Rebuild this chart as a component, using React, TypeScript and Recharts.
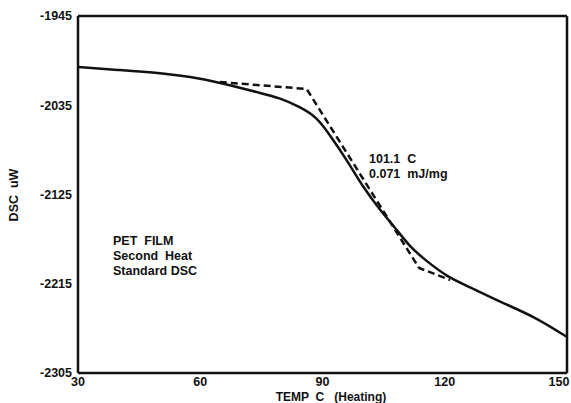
import React from 'react';
import { LineChart, Line, XAxis, YAxis, ReferenceLine, Customized } from 'recharts';

// DSC trace, second heat of PET film
const tempC = [30, 40.3, 50.1, 59.9, 68, 74.7, 79.6, 84.5, 88.6, 91.8, 96, 99.9, 104.1, 108.3, 111.5, 115.2, 120.6, 126.2, 133.6, 141.7, 150];
const dscUw = [-1996.4, -1999.5, -2002.5, -2007.5, -2015.6, -2022.6, -2027.7, -2036.8, -2046.9, -2065, -2090.2, -2117.4, -2140.6, -2160.8, -2178, -2191, -2208.2, -2218.3, -2233.4, -2247.5, -2268.7];

// glass transition construction lines (dashed)
const tangentTemp = [64.8, 86.1, 113.7, 121.3];
const tangentDsc = [-2011.6, -2018.6, -2199.1, -2211.2];

const xTicks = [30, 60, 90, 120, 150];
const yTicks = [-2305, -2215, -2125, -2035, -1945];

const trace = tempC.map((t, i) => ({ t, v: dscUw[i] }));
const tangent = tangentTemp.map((t, i) => ({ t, v: tangentDsc[i] }));

const ink = '#111';
const font = '"Liberation Sans", Arial, sans-serif';

const XTick = (props: any) => {
  const { x, y, payload } = props;
  // keep the last label inside the picture
  const cx = Math.min(x, 571 - 12);
  return (
    <text x={cx} y={y} dy="0.55em" textAnchor="middle" fill={ink} fontSize={12.5} fontWeight="bold" fontFamily={font}>
      {payload.value}
    </text>
  );
};

const Notes = () => (
  <g fontFamily={font} fontWeight="bold" fontSize={12.5} fill={ink}>
    <text x={369} y={163} style={{ whiteSpace: 'pre' }}>101.1  C</text>
    <text x={369} y={178} style={{ whiteSpace: 'pre' }}>0.071  mJ/mg</text>
    <text x={113} y={245} style={{ whiteSpace: 'pre' }}>PET  FILM</text>
    <text x={113} y={260} style={{ whiteSpace: 'pre' }}>Second  Heat</text>
    <text x={113} y={275} style={{ whiteSpace: 'pre' }}>Standard DSC</text>
    <text x={331} y={400.5} fontSize={12} textAnchor="middle" style={{ whiteSpace: 'pre' }}>TEMP  C   (Heating)</text>
    <text x={18} y={195} textAnchor="middle" transform="rotate(-90 18 195)" style={{ whiteSpace: 'pre' }}>DSC  uW</text>
  </g>
);

export default function App() {
  const tick = { fill: ink, fontSize: 12.5, fontWeight: 'bold', fontFamily: font };
  return (
    <div style={{ position: 'absolute', left: 0, top: 0, background: '#fff' }}>
      <LineChart width={571} height={403} margin={{ top: 16, right: 4, left: 0, bottom: 0 }}>
        <XAxis
          dataKey="t"
          type="number"
          domain={[30, 150]}
          ticks={xTicks}
          interval={0}
          height={30}
          tickLine={false}
          tickMargin={0}
          axisLine={{ stroke: ink, strokeWidth: 2.5 }}
          tick={<XTick />}
          allowDataOverflow
        />
        <YAxis
          type="number"
          domain={[-2305, -1945]}
          ticks={yTicks}
          interval={0}
          width={78}
          tickLine={false}
          tickMargin={0}
          axisLine={{ stroke: ink, strokeWidth: 2.5 }}
          tick={tick}
          allowDataOverflow
        />
        <ReferenceLine y={-1945} stroke={ink} strokeWidth={2.5} />
        <ReferenceLine x={150} stroke={ink} strokeWidth={2.5} />
        <Line
          data={tangent}
          dataKey="v"
          type="linear"
          stroke={ink}
          strokeWidth={2.5}
          strokeDasharray="7 4"
          dot={false}
          activeDot={false}
          isAnimationActive={false}
        />
        <Line
          data={trace}
          dataKey="v"
          type="basis"
          stroke={ink}
          strokeWidth={2.5}
          dot={false}
          activeDot={false}
          isAnimationActive={false}
        />
        <Customized component={Notes} />
      </LineChart>
    </div>
  );
}
